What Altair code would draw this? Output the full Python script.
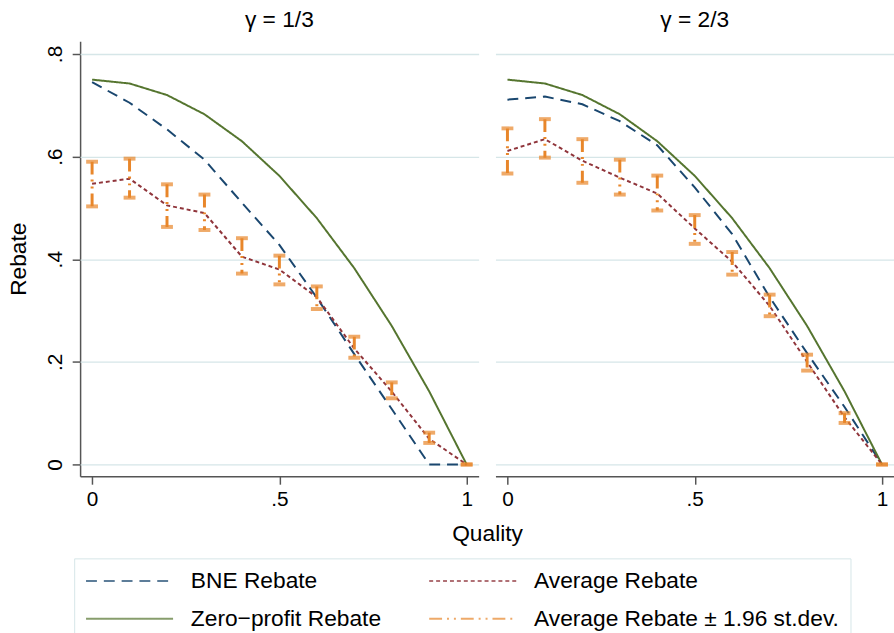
import altair as alt
import pandas as pd

# ---------------- data ----------------
quality = [0.0, 0.1, 0.2, 0.3, 0.4, 0.5, 0.6, 0.7, 0.8, 0.9, 1.0]
panels = ["γ = 1/3", "γ = 2/3"]
series_names = ["BNE Rebate", "Zero−profit Rebate", "Average Rebate",
                "Average Rebate ± 1.96 st.dev."]
series_colors = ["#1a476f", "#55752f", "#90353b", "#e8862a"]
series_dashes = [[11, 7], [1, 0], [4, 3], [13, 5, 2, 5, 2, 5]]

zero_profit = [0.75, 0.7425, 0.72, 0.6825, 0.63, 0.5625, 0.48, 0.3825, 0.27, 0.1425, 0.0]

bne_1 = [0.745, 0.705, 0.653, 0.594, 0.510, 0.428, 0.325, 0.215, 0.108, 0.0, 0.0]
avg_1 = [0.547, 0.557, 0.505, 0.490, 0.405, 0.380, 0.326, 0.226, 0.142, 0.050, 0.0]
hi_1 = [0.590, 0.596, 0.546, 0.526, 0.441, 0.407, 0.347, 0.249, 0.160, 0.062, 0.0]
lo_1 = [0.503, 0.520, 0.463, 0.457, 0.372, 0.351, 0.303, 0.208, 0.129, 0.042, 0.0]

bne_2 = [0.711, 0.717, 0.702, 0.669, 0.622, 0.540, 0.449, 0.326, 0.217, 0.112, 0.0]
avg_2 = [0.611, 0.634, 0.592, 0.559, 0.528, 0.460, 0.395, 0.309, 0.200, 0.092, 0.0]
hi_2 = [0.655, 0.673, 0.634, 0.594, 0.563, 0.486, 0.414, 0.331, 0.214, 0.100, 0.0]
lo_2 = [0.567, 0.598, 0.549, 0.526, 0.495, 0.430, 0.370, 0.289, 0.183, 0.081, 0.0]

# ---------------- long table ----------------
BNE, ZP, AVG, ERR = series_names
rows = []
for panel, bne, avg, lo, hi in [(panels[0], bne_1, avg_1, lo_1, hi_1),
                                (panels[1], bne_2, avg_2, lo_2, hi_2)]:
    for i, q in enumerate(quality):
        rows.append(dict(panel=panel, quality=q, series=BNE, value=bne[i]))
        rows.append(dict(panel=panel, quality=q, series=ZP, value=zero_profit[i]))
        rows.append(dict(panel=panel, quality=q, series=AVG, value=avg[i]))
        rows.append(dict(panel=panel, quality=q, series=ERR, lo=lo[i], hi=hi[i]))
df = pd.DataFrame(rows)

FONT = "Liberation Sans"
FS_TICK = 21
FS_TITLE = 23

legend = alt.Legend(
    title=None, orient="none", legendX=-6, legendY=523, columns=2,
    symbolType="M-1,0H7", symbolSize=484, symbolStrokeWidth=2,
    labelFont=FONT, labelFontSize=FS_TITLE, labelColor="black", labelOffset=83,
    labelLimit=0, padding=11, strokeColor="#d6e6e8", columnPadding=44,
    rowPadding=14,
)
color = alt.Color("series:N", scale=alt.Scale(domain=series_names, range=series_colors),
                  legend=legend)
dash = alt.StrokeDash("series:N", scale=alt.Scale(domain=series_names, range=series_dashes),
                      legend=legend)

xscale = alt.Scale(domain=[-0.032, 1.032], nice=False, zero=False)
yscale = alt.Scale(domain=[-0.023, 0.825], nice=False, zero=False)
xaxis = alt.Axis(values=[0, 0.5, 1], title=None, grid=False,
                 labelExpr="datum.value == 0 ? '0' : (datum.value == 1 ? '1' : substring(format(datum.value, '.1f'), 1))",
                 labelPadding=5)
yaxis = alt.Axis(values=[0, 0.2, 0.4, 0.6, 0.8], title="Rebate", grid=True,
                 labelExpr="datum.value == 0 ? '0' : substring(format(datum.value, '.1f'), 1)",
                 labelAngle=270, labelAlign="center", labelBaseline="bottom",
                 labelPadding=7, titlePadding=14)

lines = alt.Chart().mark_line(strokeWidth=2).encode(
    x=alt.X("quality:Q", scale=xscale, axis=xaxis),
    y=alt.Y("value:Q", scale=yscale, axis=yaxis),
    color=color, strokeDash=dash, detail="series:N",
).transform_filter(alt.datum.series != ERR)

bars = alt.Chart().mark_rule(strokeWidth=3).encode(
    x=alt.X("quality:Q", scale=xscale, axis=xaxis),
    y=alt.Y("hi:Q", scale=yscale, axis=yaxis),
    y2="lo:Q",
    color=color, strokeDash=dash,
).transform_filter(alt.datum.series == ERR)

cap_hi = alt.Chart().mark_tick(orient="horizontal", size=12, thickness=4).encode(
    x=alt.X("quality:Q", scale=xscale, axis=xaxis),
    y=alt.Y("hi:Q", scale=yscale, axis=yaxis),
    color=color,
).transform_filter(alt.datum.series == ERR)

cap_lo = alt.Chart().mark_tick(orient="horizontal", size=12, thickness=4).encode(
    x=alt.X("quality:Q", scale=xscale, axis=xaxis),
    y=alt.Y("lo:Q", scale=yscale, axis=yaxis),
    color=color,
).transform_filter(alt.datum.series == ERR)

chart = alt.layer(lines, bars, cap_hi, cap_lo, data=df).properties(
    width=403, height=440
).facet(
    column=alt.Column("panel:N", sort=panels, header=alt.Header(
        title="Quality", titleOrient="bottom", labelOrient="top",
        labelFont=FONT, labelFontSize=FS_TITLE, labelColor="black", labelPadding=9,
        titleFont=FONT, titleFontSize=FS_TITLE, titleFontWeight="normal", titleColor="black",
        titlePadding=3,
    )),
    spacing=17,
).properties(
    padding={"left": 8, "top": 6, "right": 0, "bottom": 0},
).configure_view(
    stroke=None
).configure_axis(
    domainColor="#555555", domainWidth=1.5, tickColor="#555555", tickWidth=1.5,
    tickSize=8, labelFont=FONT, labelFontSize=FS_TICK, labelColor="black",
    titleFont=FONT, titleFontSize=FS_TITLE, titleFontWeight="normal", titleColor="black",
    gridColor="#d6e6e8", gridWidth=1.3,
)

chart.save("out.html", embed_options={"renderer": "svg", "actions": False})
